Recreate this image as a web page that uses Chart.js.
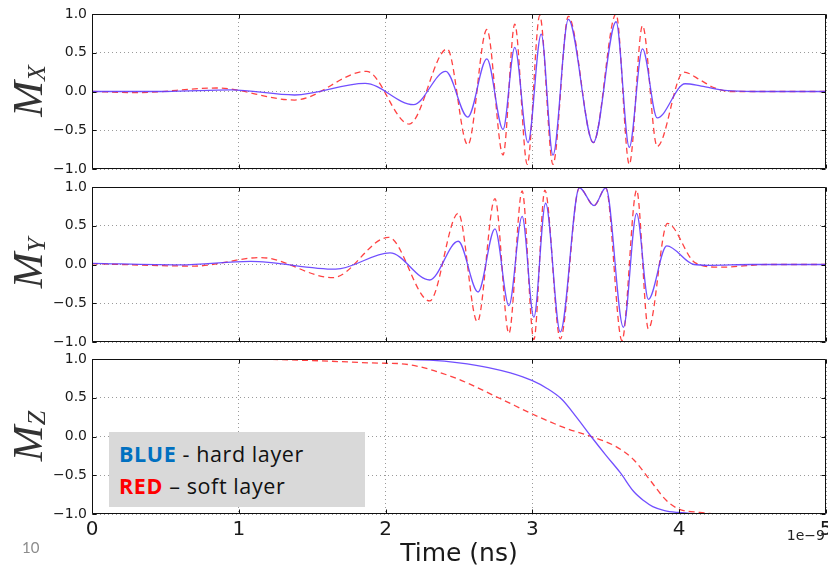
<!DOCTYPE html>
<html><head><meta charset="utf-8">
<script src="https://cdn.jsdelivr.net/npm/chart.js@4.4.1/dist/chart.umd.min.js"></script>
<style>
html,body{margin:0;padding:0;background:#fff;}
#wrap{position:relative;width:828px;height:568px;overflow:hidden;background:#fff;}
.pc{position:absolute;left:0;width:828px;}
canvas{display:block;}
.ylab{position:absolute;font-family:'Liberation Serif',serif;font-style:italic;font-size:43px;color:#333;white-space:nowrap;transform:translate(-50%,-50%) rotate(-90deg);line-height:1;}
.ylab sub{font-size:26px;vertical-align:-0.12em;line-height:1;}
#legend{position:absolute;left:109px;top:432px;width:256px;height:75px;background:#d9d9d9;font-family:'Open Sans',Lato,sans-serif;font-size:21.5px;letter-spacing:0.6px;color:#111;}
#legend div{position:absolute;left:10px;white-space:nowrap;line-height:1;}
#xlab{position:absolute;left:459px;top:540px;transform:translateX(-50%);font-family:'DejaVu Sans',sans-serif;font-size:25px;line-height:1;color:#1a1a1a;white-space:nowrap;}
#offset{position:absolute;right:3px;top:528px;font-family:'DejaVu Sans',sans-serif;font-size:14px;line-height:1;color:#222;}
#page{position:absolute;left:22px;top:540px;font-family:Lato,sans-serif;font-size:15px;line-height:1;color:#8c8c8c;}
</style></head>
<body>
<div id="wrap">
  <div class="pc" style="top:0;height:175px"><canvas id="c1" width="828" height="175"></canvas></div>
  <div class="pc" style="top:175px;height:175px"><canvas id="c2" width="828" height="175"></canvas></div>
  <div class="pc" style="top:350px;height:218px"><canvas id="c3" width="828" height="218"></canvas></div>
  <div class="ylab" style="left:28px;top:91px">M<sub>X</sub></div>
  <div class="ylab" style="left:28px;top:263px">M<sub>Y</sub></div>
  <div class="ylab" style="left:28px;top:436px">M<sub>Z</sub></div>
  <div id="legend">
    <div style="top:11px"><b style="color:#0070c0">BLUE</b> - hard layer</div>
    <div style="top:43px"><b style="color:#ff0000">RED</b> – soft layer</div>
  </div>
  <div id="xlab">Time (ns)</div>
  <div id="offset">1e−9</div>
  <div id="page">10</div>
</div>
<script>
// ---- data (time in ns, value) ----
const xTicks = [0, 1, 2, 3, 4, 5];
const yTicks = [-1, -0.5, 0, 0.5, 1];

const mxBlueT = [0, 0.5, 0.95, 1.38, 1.86, 2.19, 2.41, 2.56, 2.69, 2.80, 2.88, 2.97, 3.06, 3.14, 3.245, 3.415, 3.57, 3.66, 3.75, 3.85, 4.04, 4.15, 4.33, 4.5, 5];
const mxBlueV = [0, 0, 0.02, -0.045, 0.105, -0.17, 0.26, -0.33, 0.42, -0.49, 0.57, -0.66, 0.74, -0.82, 0.93, -0.66, 0.90, -0.72, 0.55, -0.34, 0.10, 0.07, 0.01, 0, 0];
const mxRedT = [0, 0.3, 0.85, 1.38, 1.87, 2.16, 2.42, 2.56, 2.69, 2.80, 2.88, 2.965, 3.05, 3.14, 3.245, 3.415, 3.57, 3.66, 3.75, 3.85, 4.03, 4.15, 4.23, 4.35, 5];
const mxRedV = [0, -0.015, 0.045, -0.11, 0.26, -0.42, 0.55, -0.69, 0.80, -0.82, 0.87, -0.94, 0.98, -0.94, 0.97, -0.66, 1.0, -0.94, 0.85, -0.71, 0.25, 0.14, 0.055, 0, 0];

const myBlueT = [0, 0.6, 1.08, 1.66, 2.03, 2.30, 2.495, 2.63, 2.745, 2.84, 2.93, 3.01, 3.09, 3.19, 3.32, 3.42, 3.50, 3.62, 3.71, 3.79, 3.915, 4.1, 4.2, 4.5, 5];
const myBlueV = [0.015, -0.005, 0.04, -0.06, 0.15, -0.20, 0.30, -0.355, 0.46, -0.53, 0.62, -0.68, 0.79, -0.87, 0.99, 0.76, 0.99, -0.81, 0.66, -0.45, 0.24, 0.0, -0.01, 0, 0];
const myRedT = [0, 0.7, 1.15, 1.64, 2.02, 2.30, 2.495, 2.625, 2.745, 2.84, 2.93, 3.01, 3.085, 3.19, 3.32, 3.42, 3.50, 3.61, 3.71, 3.79, 3.92, 4.11, 4.28, 4.6, 5];
const myRedV = [0.01, -0.02, 0.09, -0.17, 0.35, -0.47, 0.66, -0.74, 0.85, -0.89, 0.95, -0.97, 0.96, -0.96, 0.99, 0.76, 0.99, -0.98, 0.96, -0.83, 0.53, 0.02, -0.035, 0, 0];

const mzBlueT = [0, 2.0, 2.3, 2.5, 2.7, 2.85, 3.0, 3.1, 3.2, 3.3, 3.4, 3.5, 3.6, 3.69, 3.76, 3.82, 3.9, 3.99, 4.1, 4.2, 5];
const mzBlueV = [1.0, 1.0, 0.985, 0.95, 0.89, 0.82, 0.72, 0.62, 0.48, 0.25, 0.0, -0.24, -0.47, -0.71, -0.83, -0.905, -0.955, -0.98, -0.995, -1.0, -1.0];
const mzRedT = [0, 1.0, 1.5, 2.0, 2.10, 2.44, 2.78, 3.0, 3.23, 3.40, 3.57, 3.69, 3.80, 3.91, 3.99, 4.14, 4.3, 5];
const mzRedV = [1.0, 1.0, 0.98, 0.945, 0.94, 0.78, 0.49, 0.29, 0.105, 0.0, -0.13, -0.30, -0.56, -0.82, -0.93, -0.98, -1.0, -1.0];

// ---- helpers ----
const pts = (T, V) => T.map((t, i) => ({ x: t, y: V[i] }));
const BLUE = 'rgba(98,60,255,0.9)';
const RED = 'rgba(255,45,45,0.9)';

const frame = {
  id: 'frame',
  afterDraw(chart) {
    const { ctx, chartArea: a, scales } = chart;
    const x = scales.x, y = scales.y;
    const L = Math.round(a.left) + 0.5, R = Math.round(a.right) - 0.5;
    const T = Math.round(a.top) + 0.5, B = Math.round(a.bottom) - 0.5;
    ctx.save();
    ctx.strokeStyle = '#111';
    ctx.lineWidth = 1;
    ctx.beginPath();
    ctx.rect(L, T, R - L, B - T);
    x.ticks.forEach(t => {
      const p = Math.round(x.getPixelForValue(t.value)) + 0.5;
      ctx.moveTo(p, T); ctx.lineTo(p, T + 4);
      ctx.moveTo(p, B); ctx.lineTo(p, B - 4);
    });
    y.ticks.forEach(t => {
      const p = Math.round(y.getPixelForValue(t.value)) + 0.5;
      ctx.moveTo(L, p); ctx.lineTo(L + 4, p);
      ctx.moveTo(R, p); ctx.lineTo(R - 4, p);
    });
    ctx.stroke();
    ctx.restore();
  }
};

function makePanel(id, blue, red, showX, padTop, padBottom) {
  return new Chart(document.getElementById(id), {
    type: 'line',
    data: {
      datasets: [
        { data: blue, borderColor: BLUE, borderWidth: 1.3, pointRadius: 0, cubicInterpolationMode: 'monotone', fill: false },
        { data: red, borderColor: RED, borderWidth: 1.3, borderDash: [6, 4], pointRadius: 0, cubicInterpolationMode: 'monotone', fill: false }
      ]
    },
    options: {
      responsive: false,
      animation: false,
      devicePixelRatio: 1,
      layout: { padding: { top: padTop, bottom: padBottom, left: 0, right: 2 } },
      plugins: { legend: { display: false }, tooltip: { enabled: false } },
      scales: {
        x: {
          type: 'linear', min: 0, max: 5,
          afterBuildTicks: s => { s.ticks = xTicks.map(v => ({ value: v })); },
          afterFit: s => { s.paddingLeft = 0; s.paddingRight = 0; s.height = showX ? 30 : 0; },
          grid: { color: '#9a9a9a', lineWidth: 1, drawTicks: false },
          border: { display: false, dash: [1, 3] },
          ticks: {
            display: showX, padding: 4, color: '#1a1a1a', maxRotation: 0, autoSkip: false,
            font: { family: 'DejaVu Sans', size: 20 },
            callback: v => String(v)
          }
        },
        y: {
          type: 'linear', min: -1, max: 1,
          afterBuildTicks: s => { s.ticks = yTicks.map(v => ({ value: v })); },
          afterFit: s => { s.width = 92; s.paddingTop = 0; s.paddingBottom = 0; },
          grid: { color: '#9a9a9a', lineWidth: 1, drawTicks: false },
          border: { display: false, dash: [1, 3] },
          ticks: {
            padding: 5, color: '#1a1a1a', autoSkip: false,
            font: { family: 'DejaVu Sans', size: 14 },
            callback: v => (v < 0 ? '\u2212' : '') + Math.abs(v).toFixed(1)
          }
        }
      }
    },
    plugins: [frame]
  });
}

makePanel('c1', pts(mxBlueT, mxBlueV), pts(mxRedT, mxRedV), false, 14, 6);
makePanel('c2', pts(myBlueT, myBlueV), pts(myRedT, myRedV), false, 12, 8);
makePanel('c3', pts(mzBlueT, mzBlueV), pts(mzRedT, mzRedV), true, 9, 24);
</script>
</body></html>
